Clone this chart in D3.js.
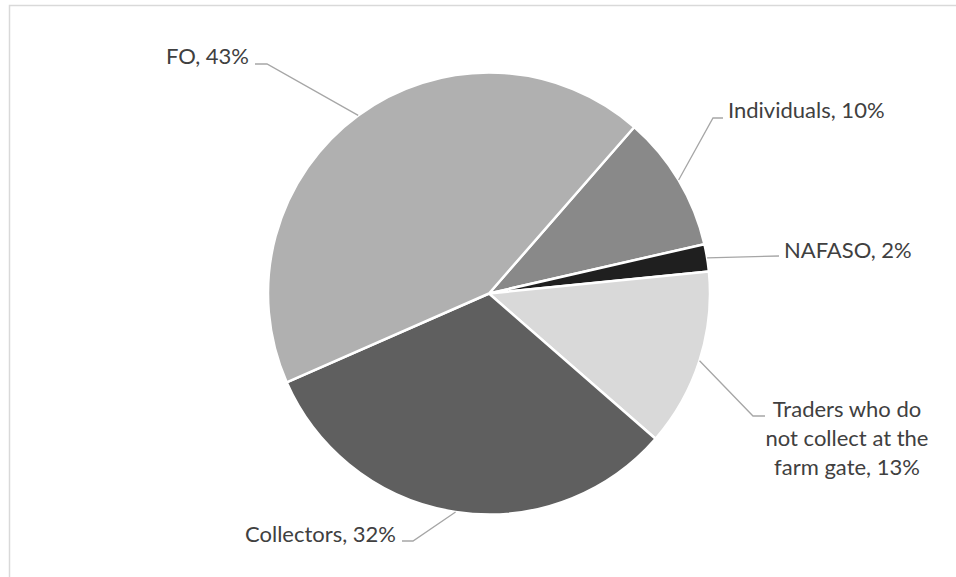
<!DOCTYPE html>
<html>
<head>
<meta charset="utf-8">
<script src="https://cdn.jsdelivr.net/npm/d3@7"></script>
<style>
  html, body { margin: 0; padding: 0; background: #fff; }
  svg { display: block; }
  text { font-family: Lato, "Open Sans", sans-serif; fill: #404040; }
</style>
</head>
<body>
<svg id="chart" width="956" height="577"></svg>
<script>
// Market channels and their shares (%)
const categories = ["Individuals", "NAFASO", "Traders who do not collect at the farm gate", "Collectors", "FO"];
const shares = [10, 2, 13, 32, 43];
const sliceColors = ["#898989", "#1f1f1f", "#d9d9d9", "#5f5f5f", "#b0b0b0"];

// Label placement: text anchor point (baseline), leader-line elbow and end
const labelLayout = {
  "Individuals": { x: 728, y: 118, anchor: "start", elbow: [713, 118], end: [723, 118], lines: ["Individuals, 10%"] },
  "NAFASO": { x: 784, y: 258, anchor: "start", elbow: null, end: [779, 256], lines: ["NAFASO, 2%"] },
  "Traders who do not collect at the farm gate": { x: 847, y: 417, anchor: "middle", elbow: [753, 416], end: [765, 416], lines: ["Traders who do", "not collect at the", "farm gate, 13%"] },
  "Collectors": { x: 396, y: 542, anchor: "end", elbow: [413, 541], end: [402, 541], lines: ["Collectors, 32%"] },
  "FO": { x: 249, y: 64, anchor: "end", elbow: [267, 64], end: [255, 64], lines: ["FO, 43%"] }
};

const svg = d3.select("#chart");

// chart area frame
svg.append("path")
  .attr("d", "M9.5,600 L9.5,5.5 L960,5.5")
  .attr("fill", "none")
  .attr("stroke", "#d9d9d9")
  .attr("stroke-width", 1.5);

const cx = 489, cy = 293.5, radius = 221;
const data = categories.map((c, i) => ({ name: c, value: shares[i], color: sliceColors[i] }));

const pie = d3.pie().value(d => d.value).sort(null)
  .startAngle(41.1 * Math.PI / 180)
  .endAngle(41.1 * Math.PI / 180 + 2 * Math.PI);
const arcs = pie(data);
const arc = d3.arc().innerRadius(0).outerRadius(radius);

const g = svg.append("g").attr("transform", `translate(${cx},${cy})`);
g.selectAll("path.slice")
  .data(arcs)
  .join("path")
  .attr("class", "slice")
  .attr("d", arc)
  .attr("fill", d => d.data.color)
  .attr("stroke", "#ffffff")
  .attr("stroke-width", 2.5)
  .attr("stroke-linejoin", "round");

// leader lines and labels
arcs.forEach(a => {
  const L = labelLayout[a.data.name];
  const mid = (a.startAngle + a.endAngle) / 2;
  const px = cx + radius * Math.sin(mid);
  const py = cy - radius * Math.cos(mid);
  const pts = [[px, py]];
  if (L.elbow) pts.push(L.elbow);
  pts.push(L.end);
  svg.append("path")
    .attr("d", d3.line()(pts))
    .attr("fill", "none")
    .attr("stroke", "#a6a6a6")
    .attr("stroke-width", 1.3);

  const t = svg.append("text")
    .attr("text-anchor", L.anchor)
    .attr("font-size", 22);
  L.lines.forEach((ln, i) => {
    t.append("tspan")
      .attr("x", L.x)
      .attr("y", L.y + i * 29)
      .text(ln);
  });
});
</script>
</body>
</html>
